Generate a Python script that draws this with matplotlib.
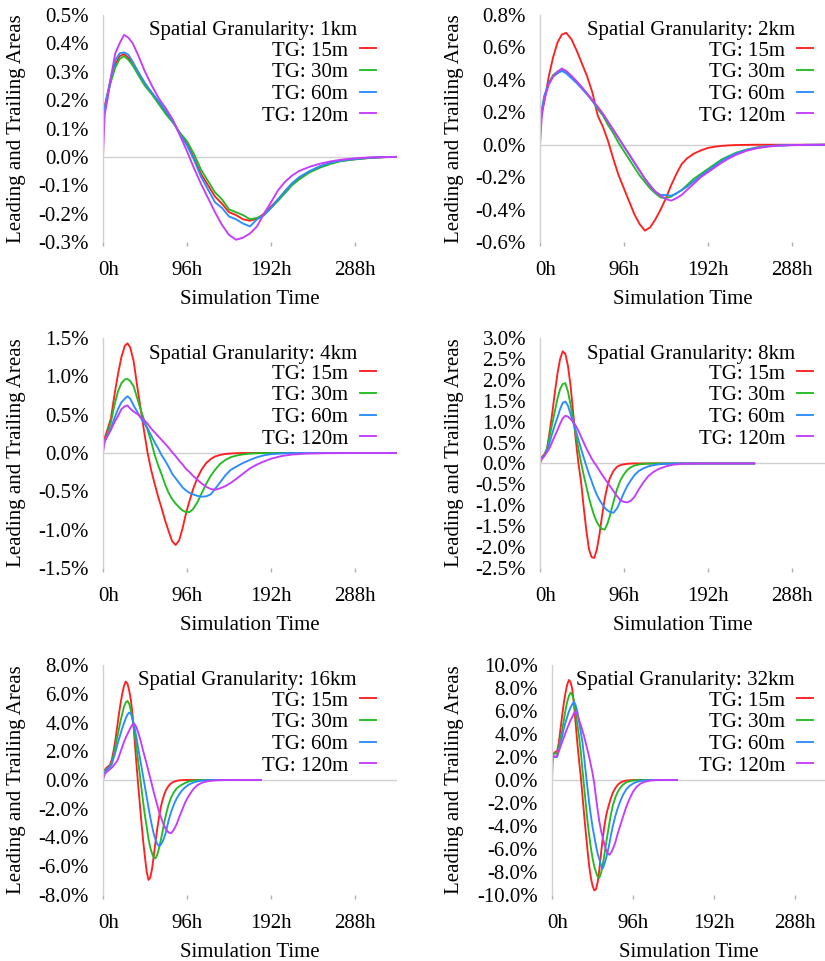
import matplotlib.pyplot as plt
from matplotlib.transforms import ScaledTranslation

plt.rcParams['font.family'] = 'serif'
plt.rcParams['font.serif'] = ['Liberation Serif', 'DejaVu Serif']
SERIF = ['Liberation Serif', 'DejaVu Serif']

# ---- spatial granularity 1km ----
hours_1km = [0, 2, 5, 9, 14, 19, 24, 29, 34, 40,
             48, 56, 64, 72, 80, 88, 96, 104, 112, 120, 128, 136, 144, 152,
             160, 168, 176, 184, 192, 200, 208, 216, 224,
             236, 248, 260, 272, 288, 304, 320, 336]
tg15_1km = [0.150, 0.180, 0.220, 0.270, 0.325, 0.355, 0.362, 0.350, 0.330, 0.300,
            0.255, 0.225, 0.190, 0.155, 0.125, 0.080, 0.050, -0.005, -0.060, -0.100, -0.140, -0.165, -0.195, -0.205,
            -0.220, -0.225, -0.218, -0.200, -0.175, -0.150, -0.122, -0.095, -0.075,
            -0.052, -0.034, -0.022, -0.014, -0.008, -0.004, -0.001, 0.000]
tg30_1km = [0.140, 0.175, 0.215, 0.265, 0.315, 0.345, 0.355, 0.342, 0.322, 0.290,
            0.250, 0.220, 0.185, 0.150, 0.120, 0.085, 0.055, 0.010, -0.045, -0.085, -0.125, -0.150, -0.185, -0.195,
            -0.205, -0.220, -0.215, -0.205, -0.180, -0.155, -0.128, -0.100, -0.080,
            -0.055, -0.038, -0.025, -0.015, -0.009, -0.004, -0.001, 0.000]
tg60_1km = [0.100, 0.170, 0.220, 0.280, 0.340, 0.365, 0.368, 0.360, 0.335, 0.300,
            0.260, 0.225, 0.195, 0.160, 0.125, 0.080, 0.040, -0.010, -0.070, -0.115, -0.160, -0.180, -0.210, -0.220,
            -0.235, -0.245, -0.220, -0.205, -0.180, -0.150, -0.120, -0.093, -0.072,
            -0.050, -0.033, -0.021, -0.013, -0.007, -0.003, -0.001, 0.000]
tg120_1km = [0.000, 0.150, 0.200, 0.280, 0.365, 0.400, 0.430, 0.420, 0.400, 0.360,
             0.300, 0.250, 0.205, 0.170, 0.130, 0.075, 0.020, -0.040, -0.095, -0.145, -0.195, -0.240, -0.275, -0.292,
             -0.285, -0.270, -0.245, -0.200, -0.160, -0.118, -0.088, -0.066, -0.050,
             -0.035, -0.024, -0.016, -0.010, -0.005, -0.002, -0.001, 0.000]
yticks_1km = [-0.3, -0.2, -0.1, 0.0, 0.1, 0.2, 0.3, 0.4, 0.5]

# ---- spatial granularity 2km ----
hours_2km = [0, 2, 5, 10, 15, 20, 25, 30,
             36, 42, 48, 54, 60, 66, 72, 78, 84, 90, 96, 102, 108, 114, 120, 126, 132, 138, 144, 150, 156, 162, 168,
             176, 184, 192, 200, 208, 216, 224,
             236, 248, 260, 272, 288, 304, 326]
tg15_2km = [0.16, 0.20, 0.27, 0.42, 0.54, 0.63, 0.68, 0.69,
            0.65, 0.58, 0.50, 0.42, 0.32, 0.18, 0.11, 0.02, -0.09, -0.19, -0.27, -0.35, -0.43, -0.49, -0.53, -0.51,
            -0.46, -0.40, -0.33, -0.25, -0.18, -0.12, -0.085,
            -0.055, -0.035, -0.020, -0.012, -0.007, -0.004, -0.002,
            -0.001, 0, 0, 0, 0, 0, 0]
tg30_2km = [0.15, 0.22, 0.30, 0.38, 0.43, 0.45, 0.465, 0.45,
            0.42, 0.39, 0.35, 0.31, 0.27, 0.22, 0.18, 0.12, 0.07, 0.01, -0.04, -0.09, -0.14, -0.19, -0.23, -0.27,
            -0.30, -0.325, -0.33, -0.32, -0.30, -0.28, -0.25,
            -0.21, -0.18, -0.15, -0.12, -0.09, -0.07, -0.05,
            -0.03, -0.017, -0.009, -0.005, -0.002, -0.001, 0]
tg60_2km = [0.10, 0.20, 0.30, 0.38, 0.42, 0.44, 0.455, 0.44,
            0.41, 0.38, 0.345, 0.31, 0.27, 0.23, 0.19, 0.14, 0.09, 0.04, -0.01, -0.06, -0.11, -0.16, -0.21, -0.25,
            -0.29, -0.31, -0.31, -0.315, -0.30, -0.28, -0.26,
            -0.225, -0.19, -0.16, -0.13, -0.10, -0.075, -0.055,
            -0.033, -0.019, -0.010, -0.005, -0.002, -0.001, 0]
tg120_2km = [0.00, 0.17, 0.28, 0.37, 0.42, 0.45, 0.47, 0.455,
             0.425, 0.39, 0.355, 0.315, 0.275, 0.235, 0.19, 0.14, 0.09, 0.04, -0.01, -0.06, -0.11, -0.16, -0.21, -0.255,
             -0.29, -0.315, -0.335, -0.345, -0.33, -0.31, -0.28,
             -0.24, -0.20, -0.17, -0.14, -0.11, -0.085, -0.063,
             -0.038, -0.022, -0.012, -0.006, -0.003, -0.001, 0]
yticks_2km = [-0.6, -0.4, -0.2, 0.0, 0.2, 0.4, 0.6, 0.8]

# ---- spatial granularity 4km ----
hours_4km = [0, 2, 5, 9, 13, 17, 21, 25, 28,
             31, 35, 39, 43, 47, 51, 55, 59, 63, 67, 71, 75, 79, 83, 87, 91, 95, 99, 103,
             108, 113, 118, 123, 128, 134, 140, 146, 152,
             160, 168, 176, 184, 192, 204, 216, 232, 256, 288, 336]
tg15_4km = [0.15, 0.20, 0.30, 0.45, 0.75, 1.02, 1.25, 1.40, 1.43,
            1.38, 1.20, 0.88, 0.58, 0.28, 0.00, -0.22, -0.40, -0.57, -0.72, -0.88, -1.02, -1.15, -1.20, -1.14,
            -0.98, -0.78, -0.62, -0.47,
            -0.32, -0.21, -0.13, -0.08, -0.045, -0.025, -0.012, -0.006, -0.003,
            -0.001, 0, 0, 0, 0, 0, 0, 0, 0, 0, 0]
tg30_4km = [0.10, 0.15, 0.25, 0.40, 0.62, 0.80, 0.91, 0.96, 0.965,
            0.94, 0.87, 0.72, 0.57, 0.43, 0.30, 0.15, -0.02, -0.16, -0.28, -0.41, -0.52, -0.60, -0.66, -0.71,
            -0.75, -0.77, -0.77, -0.73,
            -0.64, -0.52, -0.40, -0.30, -0.22, -0.14, -0.09, -0.055, -0.035,
            -0.018, -0.008, -0.003, -0.001, 0, 0, 0, 0, 0, 0, 0]
tg60_4km = [0.12, 0.16, 0.22, 0.32, 0.45, 0.57, 0.66, 0.71, 0.74,
            0.71, 0.62, 0.54, 0.46, 0.39, 0.32, 0.23, 0.14, 0.06, -0.03, -0.10, -0.18, -0.27, -0.33, -0.39,
            -0.45, -0.49, -0.52, -0.54,
            -0.56, -0.57, -0.565, -0.54, -0.47, -0.38, -0.29, -0.22, -0.18,
            -0.13, -0.09, -0.055, -0.03, -0.015, -0.006, -0.002, 0, 0, 0, 0]
tg120_4km = [0.00, 0.15, 0.22, 0.30, 0.40, 0.48, 0.57, 0.61, 0.62,
             0.58, 0.54, 0.51, 0.47, 0.43, 0.38, 0.32, 0.27, 0.22, 0.17, 0.12, 0.07, 0.01, -0.04, -0.10,
             -0.15, -0.21, -0.25, -0.30,
             -0.35, -0.40, -0.44, -0.47, -0.48, -0.46, -0.43, -0.39, -0.34,
             -0.27, -0.20, -0.15, -0.11, -0.075, -0.04, -0.02, -0.008, -0.002, 0, 0]
yticks_4km = [-1.5, -1.0, -0.5, 0.0, 0.5, 1.0, 1.5]

# ---- spatial granularity 8km ----
hours_8km = [0, 2,
             5, 8, 11, 14, 17, 20, 23, 26, 29, 32, 35, 38, 41, 44, 47, 50, 53, 56, 59, 62, 65, 68, 71, 74, 77, 80,
             84, 88, 92, 96, 100, 104, 108,
             113, 118, 124, 130, 136,
             144, 152, 162, 176, 192, 216, 245]
tg15_8km = [0.10, 0.15,
            0.22, 0.35, 0.75, 1.20, 1.70, 2.15, 2.50, 2.68, 2.62, 2.33, 1.85, 1.20, 0.55, 0.00, -0.45, -1.05,
            -1.60, -2.05, -2.24, -2.26, -2.06, -1.70, -1.25, -0.85, -0.55, -0.35,
            -0.18, -0.08, -0.04, -0.02, -0.008, -0.003, 0,
            0, 0, 0, 0, 0,
            0, 0, 0, 0, 0, 0, 0]
tg30_8km = [0.10, 0.14,
            0.20, 0.35, 0.65, 0.95, 1.25, 1.55, 1.78, 1.90, 1.92, 1.72, 1.40, 1.05, 0.68, 0.35, 0.02, -0.28,
            -0.55, -0.82, -1.05, -1.25, -1.40, -1.50, -1.57, -1.58, -1.45, -1.25,
            -0.92, -0.62, -0.40, -0.26, -0.15, -0.09, -0.05,
            -0.025, -0.01, -0.004, 0, 0,
            0, 0, 0, 0, 0, 0, 0]
tg60_8km = [0.08, 0.12,
            0.18, 0.30, 0.50, 0.72, 0.92, 1.10, 1.30, 1.45, 1.48, 1.38, 1.18, 0.98, 0.78, 0.56, 0.35, 0.14,
            -0.06, -0.25, -0.42, -0.60, -0.75, -0.87, -0.97, -1.06, -1.12, -1.16,
            -1.18, -1.08, -0.90, -0.70, -0.53, -0.40, -0.28,
            -0.18, -0.12, -0.07, -0.04, -0.02,
            -0.008, -0.003, 0, 0, 0, 0, 0]
tg120_8km = [0.00, 0.10,
             0.18, 0.27, 0.37, 0.52, 0.66, 0.80, 0.95, 1.08, 1.14, 1.12, 1.06, 0.99, 0.90, 0.78, 0.64, 0.50,
             0.36, 0.24, 0.12, 0.02, -0.07, -0.17, -0.27, -0.36, -0.45, -0.54,
             -0.66, -0.78, -0.88, -0.92, -0.93, -0.89, -0.80,
             -0.62, -0.46, -0.30, -0.20, -0.13,
             -0.07, -0.03, -0.01, -0.003, 0, 0, 0]
yticks_8km = [-2.5, -2.0, -1.5, -1.0, -0.5, 0.0, 0.5, 1.0, 1.5, 2.0, 2.5, 3.0]

# ---- spatial granularity 16km ----
hours_16km = [0, 2, 4, 6, 8, 10, 12, 14, 16, 18, 20, 22, 24, 26, 28, 30, 32, 34, 36, 38, 40,
              42, 44, 46, 48, 50, 52, 54, 56, 58, 60, 62,
              64, 66, 68, 70, 72,
              75, 78, 81, 84, 87, 90,
              94, 98, 103, 108, 114, 120, 128, 136, 150, 165, 180]
tg15_16km = [0.5, 0.7, 0.85, 0.95, 1.05, 1.4, 2.0, 2.7, 3.6, 4.5, 5.3, 6.0, 6.55, 6.85, 6.7, 6.2, 5.5, 4.4,
             2.9, 1.3, -0.2, -1.6, -3.0, -4.3, -5.4, -6.4, -6.95, -6.8, -6.2, -5.3, -4.3, -3.4,
             -2.6, -1.9, -1.4, -1.0, -0.7,
             -0.4, -0.22, -0.12, -0.06, -0.03, -0.01,
             0, 0, 0, 0, 0, 0, 0, 0, 0, 0, 0]
tg30_16km = [0.45, 0.6, 0.75, 0.85, 0.95, 1.2, 1.7, 2.3, 2.9, 3.5, 4.1, 4.6, 5.1, 5.4, 5.5, 5.3, 4.8, 4.1,
             3.3, 2.4, 1.4, 0.4, -0.6, -1.6, -2.5, -3.3, -4.1, -4.7, -5.1, -5.4, -5.45, -5.2,
             -4.75, -4.2, -3.6, -2.95, -2.4,
             -1.7, -1.2, -0.85, -0.6, -0.45, -0.33,
             -0.2, -0.1, -0.04, -0.01, 0, 0, 0, 0, 0, 0, 0]
tg60_16km = [0.4, 0.55, 0.7, 0.8, 0.9, 1.1, 1.5, 1.9, 2.35, 2.8, 3.2, 3.6, 3.95, 4.3, 4.55, 4.7, 4.6, 4.2,
             3.7, 3.0, 2.3, 1.6, 0.9, 0.2, -0.5, -1.2, -1.9, -2.6, -3.2, -3.75, -4.15, -4.45,
             -4.6, -4.5, -4.3, -4.0, -3.6,
             -2.8, -2.2, -1.7, -1.3, -1.0, -0.75,
             -0.5, -0.32, -0.18, -0.09, -0.04, -0.015, 0, 0, 0, 0, 0]
tg120_16km = [0.0, 0.4, 0.55, 0.65, 0.75, 0.85, 1.0, 1.15, 1.3, 1.6, 1.95, 2.3, 2.65, 2.95, 3.2, 3.45, 3.7, 3.88,
              3.9, 3.7, 3.35, 2.95, 2.5, 2.0, 1.55, 1.1, 0.6, 0.15, -0.35, -0.85, -1.3, -1.75,
              -2.2, -2.55, -2.9, -3.2, -3.45,
              -3.65, -3.7, -3.45, -3.1, -2.6, -2.15,
              -1.55, -1.1, -0.65, -0.35, -0.17, -0.08, -0.03, -0.01, 0, 0, 0]
yticks_16km = [-8.0, -6.0, -4.0, -2.0, 0.0, 2.0, 4.0, 6.0, 8.0]

# ---- spatial granularity 32km ----
hours_32km = [0, 1, 3, 6,
              8, 10, 12, 14, 16, 18, 20, 22, 24, 26, 28, 30, 32, 34, 36, 38, 40, 42, 44, 46, 48, 50,
              52, 54, 56, 58, 60, 62, 64, 66, 68, 70, 72,
              75, 78, 81, 84,
              88, 92, 96, 100,
              105, 110, 116, 124, 134, 148]
tg15_32km = [1.5, 2.2, 2.4, 2.5,
             3.2, 4.4, 5.6, 6.7, 7.6, 8.3, 8.7, 8.5, 7.9, 6.6, 4.9, 3.2, 1.7, 0.3, -1.3, -3.0, -4.6, -6.1,
             -7.5, -8.5, -9.2, -9.6, -9.5, -8.9, -7.8, -6.4, -5.1, -4.0, -3.1, -2.5, -2.0, -1.5, -1.1,
             -0.7, -0.4, -0.22, -0.12,
             -0.05, -0.02, -0.005, 0,
             0, 0, 0, 0, 0, 0]
tg30_32km = [1.6, 2.2, 2.3, 2.3,
             2.8, 3.6, 4.3, 5.2, 6.1, 6.8, 7.3, 7.6, 7.4, 6.9, 5.9, 4.8, 3.8, 2.5, 0.9, -0.6, -2.1, -3.6,
             -4.8, -5.9, -6.8, -7.5, -8.0, -8.4, -8.5, -8.1, -7.4, -6.5, -5.5, -4.6, -3.7, -2.9, -2.2,
             -1.5, -1.0, -0.65, -0.4,
             -0.2, -0.1, -0.05, -0.02,
             -0.005, 0, 0, 0, 0, 0]
tg60_32km = [1.4, 2.0, 2.0, 2.0,
             2.5, 3.1, 3.8, 4.5, 5.0, 5.5, 5.95, 6.3, 6.6, 6.8, 6.5, 5.95, 5.1, 4.2, 3.3, 2.0, 0.6, -0.7,
             -2.0, -3.1, -4.1, -4.9, -5.7, -6.4, -6.9, -7.4, -7.7, -7.3, -6.8, -6.2, -5.5, -4.7, -4.0,
             -3.1, -2.4, -1.8, -1.3,
             -0.8, -0.5, -0.3, -0.17,
             -0.08, -0.04, -0.01, 0, 0, 0]
tg120_32km = [0.0, 2.2, 2.0, 2.1,
              2.5, 2.9, 3.3, 3.7, 4.1, 4.5, 4.85, 5.2, 5.5, 5.8, 5.95, 5.7, 5.2, 4.8, 4.3, 3.8, 3.2, 2.6,
              2.0, 1.3, 0.6, -0.3, -1.5, -2.6, -3.6, -4.4, -5.0, -5.6, -6.1, -6.4, -6.5, -6.3, -6.0,
              -5.4, -4.6, -3.9, -3.2,
              -2.3, -1.6, -1.0, -0.6,
              -0.3, -0.15, -0.05, -0.01, 0, 0]
yticks_32km = [-10.0, -8.0, -6.0, -4.0, -2.0, 0.0, 2.0, 4.0, 6.0, 8.0, 10.0]

tg_labels = ['TG: 15m', 'TG: 30m', 'TG: 60m', 'TG: 120m']
tg_colors = ['#ff2020', '#22bb22', '#2a8cff', '#c53cff']
xticks = [0, 96, 192, 288]
xtick_labels = ['0h', '96h', '192h', '288h']

W, H = 825, 961
fig = plt.figure(figsize=(W / 100, H / 100), dpi=100)

# (name, hours, series, yticks, pixel box left/top/right/bottom, x limit)
panels = [
    ('1km', hours_1km, [tg15_1km, tg30_1km, tg60_1km, tg120_1km], yticks_1km, (103, 15, 397, 242), 336),
    ('2km', hours_2km, [tg15_2km, tg30_2km, tg60_2km, tg120_2km], yticks_2km, (540, 15, 825, 242), 326),
    ('4km', hours_4km, [tg15_4km, tg30_4km, tg60_4km, tg120_4km], yticks_4km, (103, 338, 397, 568), 336),
    ('8km', hours_8km, [tg15_8km, tg30_8km, tg60_8km, tg120_8km], yticks_8km, (540, 338, 825, 568), 326),
    ('16km', hours_16km, [tg15_16km, tg30_16km, tg60_16km, tg120_16km], yticks_16km, (103, 665, 397, 895), 336),
    ('32km', hours_32km, [tg15_32km, tg30_32km, tg60_32km, tg120_32km], yticks_32km, (552, 665, 825, 895), 323),
]

for name, hours, series, yticks, (l, t, r, b), xmax in panels:
    ax = fig.add_axes([l / W, 1 - b / H, (r - l) / W, (b - t) / H])
    ax.axhline(0, color='#d0d0d0', lw=1.0, zorder=1)
    for vals, lab, col in zip(series, tg_labels, tg_colors):
        ax.plot(hours, vals, color=col, lw=1.35, label=lab, zorder=2)

    ax.set_xlim(0, xmax)
    ax.set_ylim(yticks[0], yticks[-1])
    ax.set_yticks(yticks)
    ax.set_yticklabels(['{:.1f}%'.format(v) for v in yticks], fontfamily=SERIF, fontsize=15)
    ax.set_xticks(xticks)
    ax.set_xticklabels(xtick_labels, fontfamily=SERIF, fontsize=15)
    ax.tick_params(axis='y', length=0, pad=10)
    ax.tick_params(axis='x', length=3, width=1, color='#b0b0b0', pad=11)
    # the first hour label sits a little to the right of its tick
    first = ax.get_xticklabels()[0]
    first.set_transform(first.get_transform() + ScaledTranslation(0.06, 0, fig.dpi_scale_trans))
    for side in ['top', 'right', 'bottom']:
        ax.spines[side].set_visible(False)
    ax.spines['left'].set_color('#d0d0d0')
    ax.spines['left'].set_linewidth(1.0)
    ax.patch.set_alpha(0)

    ax.set_xlabel('Simulation Time', fontsize=15, fontfamily=SERIF)
    ax.xaxis.set_label_coords((l + r) / 2 / W, 1 - (b + 48) / H, transform=fig.transFigure)
    ax.set_ylabel('Leading and Trailing Areas', fontsize=15, fontfamily=SERIF)
    ylab_x = 26 if l < 300 else 464
    ax.yaxis.set_label_coords(ylab_x / W, 1 - (t + b) / 2 / H, transform=fig.transFigure)

    hx = 376 if l < 300 else 813
    tx = 357 if l < 300 else 795
    fig.text(tx / W, 1 - (t + 16) / H, 'Spatial Granularity: ' + name,
             ha='right', va='center', fontsize=15, fontfamily=SERIF)
    ax.legend(loc='upper right', bbox_to_anchor=(hx / W, 1 - (t + 26) / H),
              bbox_transform=fig.transFigure, frameon=False, markerfirst=False,
              handlelength=0.75, handletextpad=0.6, labelspacing=0.1,
              borderpad=0, borderaxespad=0, prop={'family': SERIF, 'size': 15})

fig.savefig('out.png', dpi=100)
